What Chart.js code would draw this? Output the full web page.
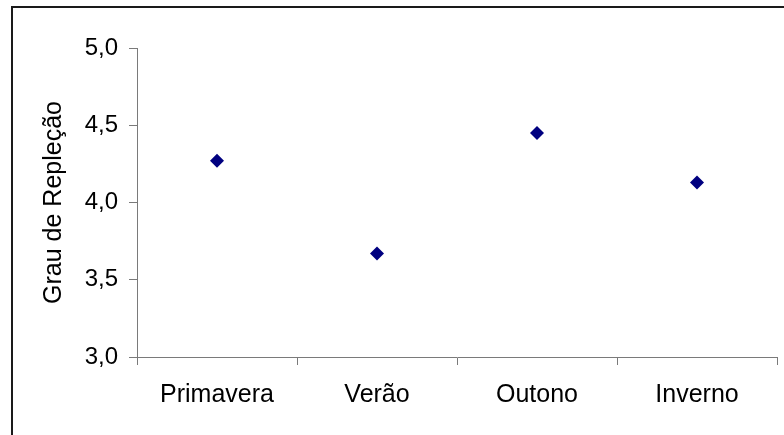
<!DOCTYPE html>
<html>
<head>
<meta charset="utf-8">
<script src="https://cdn.jsdelivr.net/npm/chart.js@4/dist/chart.umd.min.js"></script>
<style>
  html, body { margin: 0; padding: 0; background: #fff; }
  #wrap { width: 784px; height: 435px; position: relative; }
</style>
</head>
<body>
<div id="wrap"><canvas id="c" width="784" height="435"></canvas></div>
<script>
// Estações do ano e grau de repleção médio
const seasons = ['Primavera', 'Verão', 'Outono', 'Inverno'];
const repletion = [4.27, 3.67, 4.45, 4.13];
const yTicks = [3.0, 3.5, 4.0, 4.5, 5.0];
const yTitle = 'Grau de Repleção';

const axisGray = '#7a7a7a';
const fontFamily = '"Liberation Sans", Arial, sans-serif';

// Moldura externa do gráfico
const framePlugin = {
  id: 'frame',
  beforeDraw(chart) {
    const ctx = chart.ctx;
    ctx.save();
    ctx.fillStyle = '#ffffff';
    ctx.fillRect(0, 0, chart.width, chart.height);
    ctx.strokeStyle = '#1a1a1a';
    ctx.lineWidth = 2;
    ctx.strokeRect(12, 7, chart.width + 20, chart.height + 20);
    ctx.restore();
  }
};

new Chart(document.getElementById('c'), {
  type: 'line',
  data: {
    labels: seasons,
    datasets: [{
      data: repletion,
      showLine: false,
      pointStyle: 'rectRot',
      pointRadius: 7,
      pointHoverRadius: 7,
      pointBackgroundColor: '#000080',
      pointBorderColor: '#000080',
      pointBorderWidth: 0
    }]
  },
  options: {
    responsive: false,
    animation: false,
    devicePixelRatio: 1,
    layout: { padding: { left: 12, top: 48, right: 5, bottom: 0 } },
    plugins: { legend: { display: false }, tooltip: { enabled: false } },
    scales: {
      x: {
        type: 'category',
        offset: true,
        grid: {
          offset: true,
          drawOnChartArea: false,
          drawTicks: true,
          tickLength: 8,
          color: axisGray,
          lineWidth: 1
        },
        border: { color: axisGray, width: 1 },
        ticks: {
          color: '#000',
          padding: 15,
          maxRotation: 0,
          font: { family: fontFamily, size: 25 }
        },
        afterFit(scale) { scale.height = 78; }
      },
      y: {
        min: 3,
        max: 5,
        afterBuildTicks(scale) { scale.ticks = yTicks.map(v => ({ value: v })); },
        grid: {
          drawOnChartArea: false,
          drawTicks: true,
          tickLength: 8,
          color: axisGray,
          lineWidth: 1
        },
        border: { color: axisGray, width: 1 },
        ticks: {
          color: '#000',
          padding: 11,
          font: { family: fontFamily, size: 24 },
          callback: v => Number(v).toFixed(1).replace('.', ',')
        },
        title: {
          display: true,
          text: yTitle,
          color: '#000',
          padding: { top: 27, bottom: 0 },
          font: { family: fontFamily, size: 25 }
        },
        afterFit(scale) { scale.width = 137 - 12; }
      }
    }
  },
  plugins: [framePlugin]
});
</script>
</body>
</html>
